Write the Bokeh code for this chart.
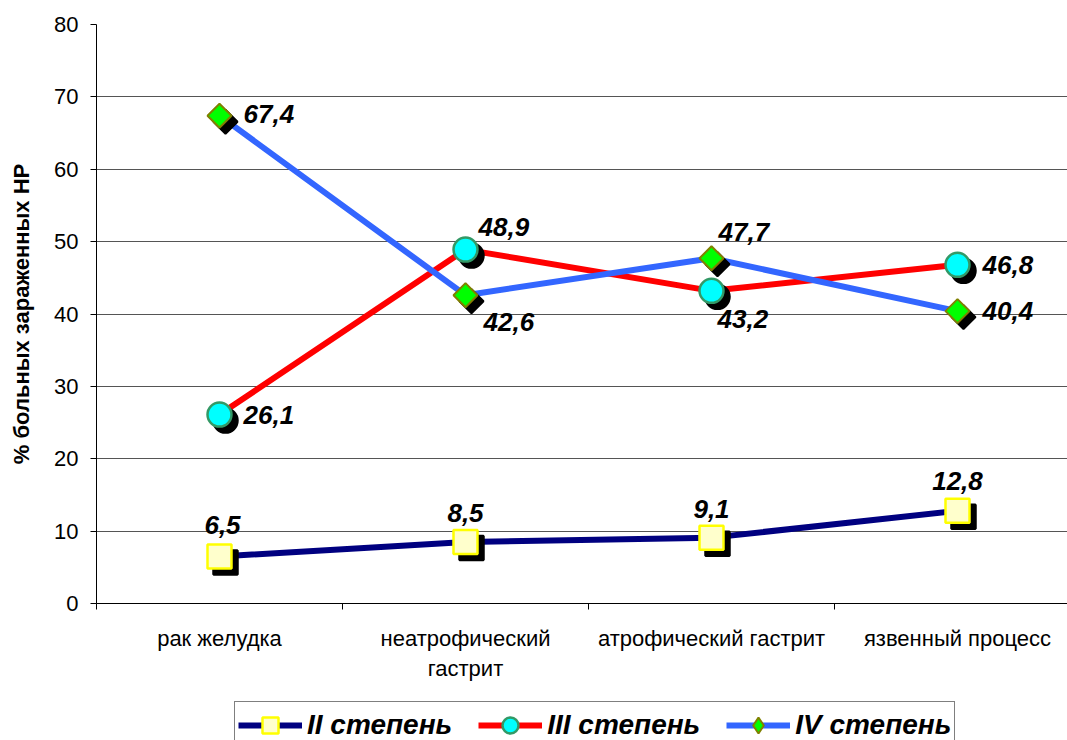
import math
from bokeh.plotting import figure
from bokeh.layouts import column
from bokeh.models import Range1d, FixedTicker, Legend, LegendItem, ColumnDataSource
from bokeh.transform import dodge
from bokeh.core.properties import value
from bokeh.embed import file_html
from bokeh.resources import INLINE

# ---- data ----
categories = ["рак желудка", "неатрофический\nгастрит", "атрофический гастрит", "язвенный процесс"]
series_names = ["II степень", "III степень", "IV степень"]
stage2 = [6.5, 8.5, 9.1, 12.8]
stage3 = [26.1, 48.9, 43.2, 46.8]
stage4 = [67.4, 42.6, 47.7, 40.4]
y_ticks = [0, 10, 20, 30, 40, 50, 60, 70, 80]
y_title = "% больных зараженных НР"

# ---- label placement (screen px) ----
lab_dx = {"II": [3, 0, 0, 0], "III": [24, 13, 6, 25], "IV": [24, 18, 7, 25]}
lab_dy = {"II": [-31, -29, -29, -30], "III": [0, -23, 28, 0], "IV": [-2, 27, -26, 0]}

FONT = "Liberation Sans"
xs = [i + 0.5 for i in range(len(categories))]

p = figure(width=1067, height=700, output_backend="svg", toolbar_location=None,
           x_range=Range1d(0, (1067 - 96) / 246.0), y_range=Range1d(0, 80),
           min_border_left=96, min_border_right=0, min_border_top=24, min_border_bottom=97,
           outline_line_color=None, background_fill_color="white", border_fill_color="white")

# axes
p.xgrid.visible = False
p.ygrid.ticker = FixedTicker(ticks=y_ticks)
p.ygrid.grid_line_color = "#555555"
p.ygrid.grid_line_width = 1

xa = p.xaxis[0]
xa.ticker = FixedTicker(ticks=xs, minor_ticks=[0, 1, 2, 3, 4])
xa.major_label_overrides = {x: c for x, c in zip(xs, categories)}
xa.major_tick_line_color = None
xa.major_tick_out = 0
xa.major_tick_in = 0
xa.minor_tick_out = 6
xa.minor_tick_in = 0
xa.minor_tick_line_color = "black"
xa.axis_line_color = "black"
xa.major_label_standoff = 16
xa.major_label_text_font = FONT
xa.major_label_text_font_size = "22px"
xa.major_label_text_color = "black"

ya = p.yaxis[0]
ya.ticker = FixedTicker(ticks=y_ticks)
ya.minor_tick_line_color = None
ya.major_tick_out = 6
ya.major_tick_in = 0
ya.major_tick_line_color = "black"
ya.axis_line_color = "black"
ya.major_label_standoff = 12
ya.major_label_text_font = FONT
ya.major_label_text_font_size = "22px"
ya.major_label_text_color = "black"
ya.axis_label = y_title
ya.axis_label_text_font = FONT
ya.axis_label_text_font_style = "bold"
ya.axis_label_text_font_size = "22px"
ya.axis_label_text_color = "black"
ya.axis_label_standoff = 17

specs = [
    ("II", stage2, "#000080", dict(marker="square", size=24, fill_color="#FFFFCC", line_color="#FFFF00", line_width=2.5, angle=0)),
    ("III", stage3, "#FF0000", dict(marker="circle", size=24, fill_color="#00FFFF", line_color="#339966", line_width=2.5, angle=0)),
    ("IV", stage4, "#3366FF", dict(marker="square", size=17, fill_color="#00FF00", line_color="#808000", line_width=2, angle=math.pi / 4)),
]
legend_markers = ["square", "circle", "diamond"]

sdx = 6 / 246.0
sdy = 6 / (579 / 80.0)

line_rs = []
for key, vals, col, mk in specs:
    src = ColumnDataSource(dict(x=xs, y=vals))
    p.line("x", "y", source=src, line_color=col, line_width=6, line_join="round")
    line_rs.append((key, src, col, mk))

for key, src, col, mk in line_rs:
    p.scatter(x=dodge("x", sdx), y=dodge("y", -sdy), source=src, marker=mk["marker"],
              size=mk["size"], angle=mk["angle"], fill_color="black", line_color="black",
              line_width=mk["line_width"])
    p.scatter("x", "y", source=src, **mk)

for key, vals, col, mk in specs:
    lsrc = ColumnDataSource(dict(x=xs, y=vals,
                                 t=[("%.1f" % v).replace(".", ",") for v in vals],
                                 dx=lab_dx[key], dy=lab_dy[key]))
    p.text("x", "y", text="t", source=lsrc, x_offset="dx", y_offset="dy",
           text_font=value(FONT), text_font_style="bold italic", text_font_size="26px",
           text_color="black", text_align="center" if key == "II" else "left",
           text_baseline="middle")

# ---- legend strip (separate figure, legend glyphs only) ----
lg = figure(width=1067, height=40, output_backend="svg", toolbar_location=None,
            x_axis_type=None, y_axis_type=None, x_range=Range1d(0, 1), y_range=Range1d(0, 1),
            min_border_left=0, min_border_right=0, min_border_top=0, min_border_bottom=0,
            outline_line_color=None, background_fill_color="white", border_fill_color="white")
lg.grid.visible = False

items = []
for (key, vals, col, mk), name, lm in zip(specs, series_names, legend_markers):
    # series drawn out of this strip's view; used only as legend swatches
    s2 = ColumnDataSource(dict(x=xs, y=vals))
    lr = lg.line("x", "y", source=s2, line_color=col, line_width=6, line_join="round")
    mr = lg.scatter("x", "y", source=s2, marker=lm, size=mk["size"],
                    fill_color=mk["fill_color"], line_color=mk["line_color"],
                    line_width=mk["line_width"])
    items.append(LegendItem(label=name, renderers=[lr, mr]))

legend = Legend(items=items, orientation="horizontal", location=(138, -9),
                glyph_width=64, glyph_height=40, label_standoff=5, spacing=26, padding=3,
                border_line_color="black", border_line_width=1,
                background_fill_color="white", background_fill_alpha=1,
                label_text_font=FONT, label_text_font_style="bold italic",
                label_text_font_size="28px", label_text_color="black")
lg.add_layout(legend)

layout = column(p, lg, spacing=0)
open("out.html", "w").write(file_html(layout, INLINE))
